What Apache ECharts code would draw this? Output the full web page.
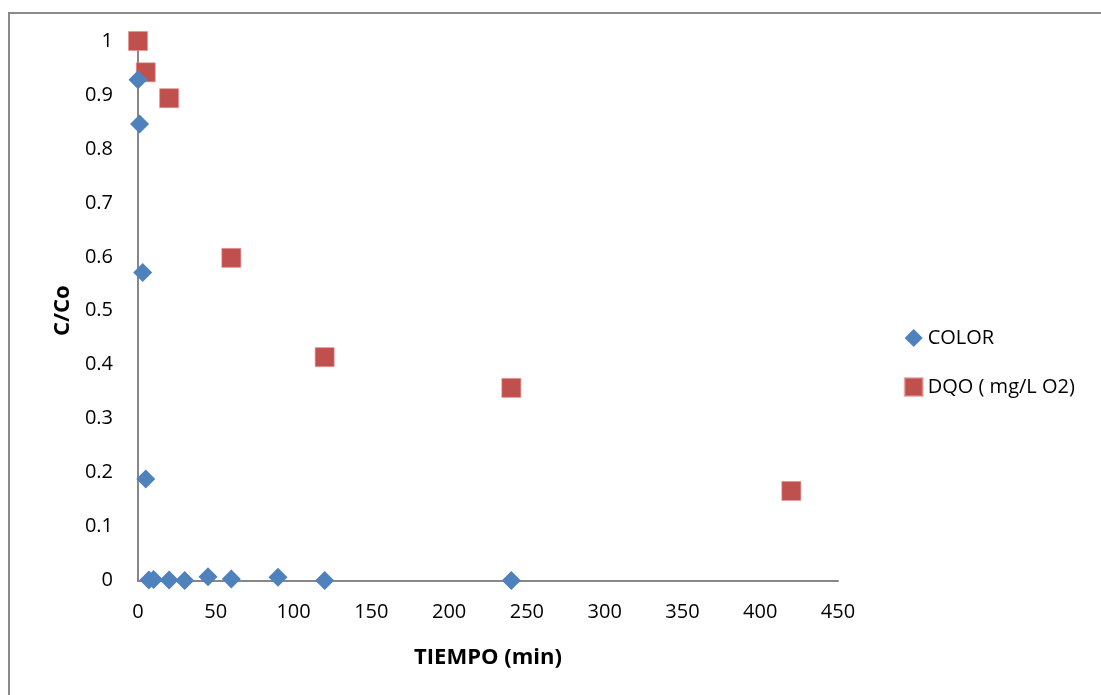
<!DOCTYPE html>
<html>
<head>
<meta charset="utf-8">
<script src="https://cdn.jsdelivr.net/npm/echarts@6/dist/echarts.min.js"></script>
<style>
html,body{margin:0;padding:0;background:#fff;}
#c{width:1101px;height:695px;}
</style>
</head>
<body>
<div id="c"></div>
<script>
const colorTime = [0, 1, 3, 5, 7, 10, 20, 30, 45, 60, 90, 120, 240];
const colorVal  = [0.928, 0.846, 0.571, 0.188, 0.001, 0.002, 0.001, 0.0, 0.007, 0.003, 0.006, 0.0, 0.0];
const dqoTime = [0, 5, 20, 60, 120, 240, 420];
const dqoVal  = [1.0, 0.942, 0.894, 0.598, 0.414, 0.357, 0.166];
const seriesNames = ['COLOR', 'DQO ( mg/L O2)'];
const xTitle = 'TIEMPO (min)';
const yTitle = 'C/Co';

const font = 'Open Sans';
const chart = echarts.init(document.getElementById('c'), null, {renderer: 'canvas'});
const zip = (a, b) => a.map((v, i) => [v, b[i]]);
chart.setOption({
  animation: false,
  backgroundColor: '#fff',
  grid: {left: 138, right: 263, top: 41, bottom: 114.5, containLabel: false},
  graphic: [{
    type: 'rect', silent: true,
    shape: {x: 9, y: 13, width: 1300, height: 900},
    style: {fill: 'none', stroke: '#8a8a8a', lineWidth: 2}
  }],
  legend: {
    orient: 'vertical', left: 898.7, top: 323, itemGap: 29,
    itemWidth: 18, itemHeight: 18,
    textStyle: {fontFamily: font, fontSize: 20, color: '#000'},
    data: [{name: seriesNames[0], icon: 'diamond'}, {name: seriesNames[1], icon: 'rect'}]
  },
  xAxis: {
    type: 'value', min: 0, max: 450, interval: 50,
    name: xTitle, nameLocation: 'middle', nameGap: 66,
    nameTextStyle: {fontFamily: font, fontSize: 22, fontWeight: 'bold', color: '#000'},
    axisLine: {show: true, onZero: false, lineStyle: {color: '#878787', width: 2}},
    axisTick: {show: false}, splitLine: {show: false},
    axisLabel: {fontFamily: font, fontSize: 20, color: '#000', margin: 22}
  },
  yAxis: {
    type: 'value', min: 0, max: 1, interval: 0.1,
    name: yTitle, nameLocation: 'middle', nameGap: 64,
    nameTextStyle: {fontFamily: font, fontSize: 22, fontWeight: 'bold', color: '#000'},
    axisLine: {show: true, onZero: false, lineStyle: {color: '#878787', width: 2}},
    axisTick: {show: false}, splitLine: {show: false},
    axisLabel: {fontFamily: font, fontSize: 20, color: '#000', margin: 25,
      formatter: v => String(Math.round(v * 10) / 10)}
  },
  series: [
    {name: seriesNames[0], type: 'scatter', symbol: 'diamond', symbolSize: 19,
     itemStyle: {color: '#4F81BD', opacity: 1}, data: zip(colorTime, colorVal), z: 3},
    {name: seriesNames[1], type: 'scatter', symbol: 'rect', symbolSize: 19,
     itemStyle: {color: '#C0504D', opacity: 1, borderColor: 'rgba(230,140,140,0.6)', borderWidth: 1}, data: zip(dqoTime, dqoVal), z: 2}
  ]
});
</script>
</body>
</html>
